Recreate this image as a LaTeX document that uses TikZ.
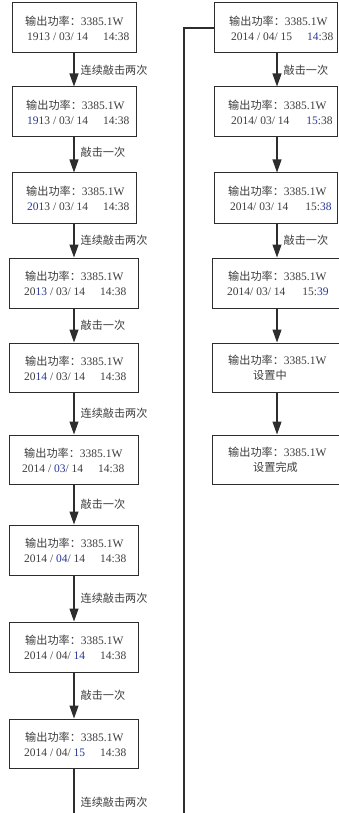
\documentclass[tikz,border=0pt]{standalone}
\usepackage{fontspec}
\setmainfont{Liberation Serif}
\newfontfamily\cjk{Noto Sans CJK SC}[Scale=0.97]
\usetikzlibrary{arrows.meta}
\definecolor{txtgray}{RGB}{60,60,60}
\definecolor{hiblue}{RGB}{40,55,150}
\definecolor{linegray}{RGB}{45,45,45}
\newcommand\zh[1]{{\cjk #1}}
\newcommand\hb[1]{\textcolor{hiblue}{#1}}
\newcommand\pw{\zh{输出功率：}3385.1W}
\begin{document}
\begin{tikzpicture}[x=1pt,y=-1pt,
  box/.style={draw=linegray, line width=1pt, inner sep=0pt, minimum height=50pt},
  txt/.style={anchor=west, align=left, inner sep=0pt, text=txtgray, font=\fontsize{11.5}{15}\selectfont},
  lbl/.style={anchor=west, inner sep=0pt, xshift=6pt, text=txtgray, font=\fontsize{11.5}{14}\selectfont\cjk},
  flow/.style={draw=linegray, line width=1.2pt, -{Triangle[width=9pt,length=13pt]}},
  plain/.style={draw=linegray, line width=1.2pt}]
\useasboundingbox (0,0) rectangle (339,813);
\clip (0,0) rectangle (339,813);
\coordinate (ax) at (74,0);
\coordinate (bx) at (277,0);
% left column
\node[box, minimum width=124pt] (b1) at (74,28) {};
\node[txt] (t1) at (25,28.5) {\pw\\\hspace*{2pt}1913 / 03/ 14\hspace{15pt}14:38};
\node[box, minimum width=124pt] (b2) at (74,112) {};
\node[txt] (t2) at (26,112.5) {\pw\\\hspace*{1pt}\hb{19}13 / 03/ 14\hspace{15pt}14:38};
\node[box, minimum width=124pt] (b3) at (74,198) {};
\node[txt] (t3) at (26,198.5) {\pw\\\hspace*{1pt}\hb{20}13 / 03/ 14\hspace{15pt}14:38};
\node[box, minimum width=129pt] (b4) at (73.5,283) {};
\node[txt] (t4) at (25,283.5) {\pw\\\hspace*{-1pt}20\hb{13} / 03/ 14\hspace{15pt}14:38};
\node[box, minimum width=129pt, minimum height=49pt] (b5) at (73.5,367.5) {};
\node[txt] (t5) at (25,368) {\pw\\\hspace*{-1pt}20\hb{14} / 03/ 14\hspace{15pt}14:38};
\node[box, minimum width=129pt, minimum height=49pt] (b6) at (73.5,459.5) {};
\node[txt] (t6) at (24,460) {\pw\\\hspace*{-2pt}2014 / \hb{03}/ 14\hspace{15pt}14:38};
\node[box, minimum width=129pt] (b7) at (73.5,550) {};
\node[txt] (t7) at (25,550.5) {\pw\\\hspace*{-1pt}2014 / \hb{04}/ 14\hspace{15pt}14:38};
\node[box, minimum width=129pt] (b8) at (73.5,647) {};
\node[txt] (t8) at (25,647.5) {\pw\\\hspace*{-1pt}2014 / 04/ \hb{14}\hspace{15pt}14:38};
\node[box, minimum width=129pt, minimum height=49pt] (b9) at (73.5,743.5) {};
\node[txt] (t9) at (25,744) {\pw\\\hspace*{-1pt}2014 / 04/ \hb{15}\hspace{15pt}14:38};
\coordinate (lbot) at (74,820);
% right column
\node[box, minimum width=123pt] (r1) at (275.5,28) {};
\node[txt] (s1) at (229,28.5) {\pw\\\hspace*{2pt}2014 / 04/ 15\hspace{15pt}\hb{14}:38};
\node[box, minimum width=123pt] (r2) at (275.5,112) {};
\node[txt] (s2) at (228,112.5) {\pw\\\hspace*{3pt}2014/ 03/ 14\hspace{17pt}\hb{15}:38};
\node[box, minimum width=123pt] (r3) at (275.5,198) {};
\node[txt] (s3) at (228,198.5) {\pw\\\hspace*{2pt}2014/ 03/ 14\hspace{17pt}15:\hb{38}};
\node[box, minimum width=133pt] (r4) at (278.5,283) {};
\node[txt] (s4) at (228,283.5) {\pw\\\hspace*{-1pt}2014/ 03/ 14\hspace{17pt}15:\hb{39}};
\node[box, minimum width=133pt, minimum height=49pt] (r5) at (278.5,367.5) {};
\node[txt] (s5) at (228,368) {\pw\\\hspace*{25pt}\zh{设置中}};
\node[box, minimum width=133pt, minimum height=49pt] (r6) at (278.5,459.5) {};
\node[txt] (s6) at (228,460) {\pw\\\hspace*{25pt}\zh{设置完成}};
\coordinate (fbot) at (184,820);
% left arrows
\draw[flow] (b1.south -| ax) -- node[lbl, midway] (l1) {连续敲击两次} (b2.north -| ax);
\draw[flow] (b2.south -| ax) -- node[lbl, pos=0.42] (l2) {敲击一次} (b3.north -| ax);
\draw[flow] (b3.south -| ax) -- node[lbl, midway] (l3) {连续敲击两次} (b4.north -| ax);
\draw[flow] (b4.south -| ax) -- node[lbl, midway] (l4) {敲击一次} (b5.north -| ax);
\draw[flow] (b5.south -| ax) -- node[lbl, midway] (l5) {连续敲击两次} (b6.north -| ax);
\draw[flow] (b6.south -| ax) -- node[lbl, midway] (l6) {敲击一次} (b7.north -| ax);
\draw[flow] (b7.south -| ax) -- node[lbl, midway] (l7) {连续敲击两次} (b8.north -| ax);
\draw[flow] (b8.south -| ax) -- node[lbl, midway] (l8) {敲击一次} (b9.north -| ax);
\draw[plain] (b9.south -| ax) -- node[lbl, pos=0.65] (l9) {连续敲击两次} (lbot);
% feedback
\draw[plain] (fbot) |- (r1.west);
% right arrows
\draw[flow] (r1.south -| bx) -- node[lbl, midway] (m1) {敲击一次} (r2.north -| bx);
\draw[flow] (r2.south -| bx) -- (r3.north -| bx);
\draw[flow] (r3.south -| bx) -- node[lbl, midway] (m3) {敲击一次} (r4.north -| bx);
\draw[flow] (r4.south -| bx) -- (r5.north -| bx);
\draw[flow] (r5.south -| bx) -- (r6.north -| bx);
\end{tikzpicture}
\end{document}
